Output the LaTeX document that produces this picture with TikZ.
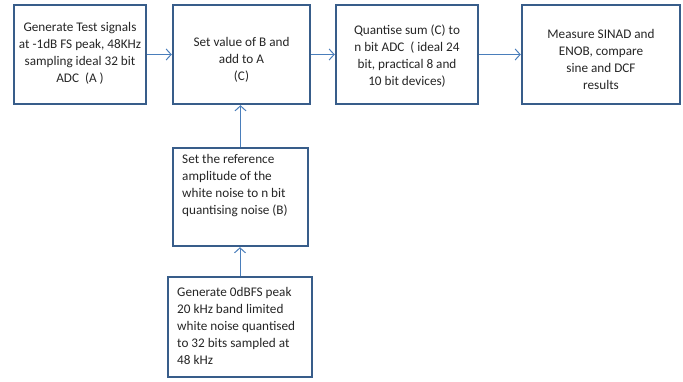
\documentclass[tikz,border=0pt]{standalone}
\usepackage{fontspec}
\setmainfont{Carlito}
\usetikzlibrary{arrows.meta}
\definecolor{boxblue}{HTML}{385D8A}
\definecolor{arrowblue}{HTML}{4A7EBB}
\begin{document}
\begin{tikzpicture}[x=1pt,y=-1pt,
  box/.style={draw=boxblue,line width=2.4pt,fill=white,inner sep=0pt},
  txt/.style={font=\fontsize{13.2}{17}\selectfont,inner sep=0pt,text=black!85},
  conn/.style={draw=arrowblue,line width=1pt,-{Straight Barb[length=5pt,width=11pt,line width=1pt]}}]
\useasboundingbox (0,0) rectangle (683,382);
% boxes (centre-line coordinates)
\node[box,minimum width=132pt,minimum height=99pt] (a) at (80,54.5) {};
\node[box,minimum width=137pt,minimum height=99pt] (c) at (241.5,54.5) {};
\node[box,minimum width=142pt,minimum height=99pt] (q) at (407,54.5) {};
\node[box,minimum width=158pt,minimum height=99pt] (m) at (601,54.5) {};
\node[box,minimum width=135pt,minimum height=98pt] (b) at (240.5,197) {};
\node[box,minimum width=144pt,minimum height=100pt] (g) at (240,327) {};
% texts
\node[txt,align=center] (ta) at (80,53) {Generate Test signals\\at -1dB FS peak, 48KHz\\sampling ideal 32 bit\\ADC\ \ (A )};
\node[txt,align=center] (tc) at (241.5,60) {Set value of B and\\add to A\\(C)};
\node[txt,align=center] (tq) at (407,56) {Quantise sum (C) to\\n bit ADC\ \ ( ideal 24\\bit, practical 8 and\\10 bit devices)};
\node[txt,align=center] (tm) at (601,59) {Measure SINAD and\\ENOB, compare\\sine and DCF\\results};
\node[txt,align=left,anchor=north west] (tb) at (182,154) {Set the reference\\amplitude of the\\white noise to n bit\\quantising noise (B)};
\node[txt,align=left,anchor=north west] (tg) at (177,287) {Generate 0dBFS peak\\20 kHz band limited\\white noise quantised\\to 32 bits sampled at\\48 kHz};
% connectors
\draw[conn] (a.east) -- (c.west);
\draw[conn] (c.east) -- (q.west);
\draw[conn] (q.east) -- (m.west);
\draw[conn] (b.north) -- (b.north |- c.south);
\draw[conn] (g.north) -- (g.north |- b.south);
\end{tikzpicture}
\end{document}
